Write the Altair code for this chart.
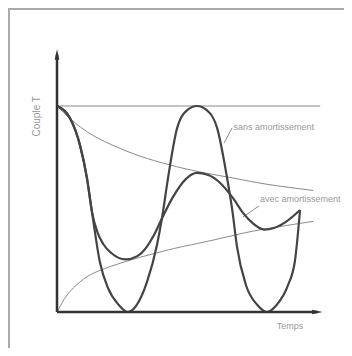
import altair as alt
import pandas as pd

# time (arbitrary units) and torque T (percent of initial value)
undamped_t = [0, 0.93, 1.64, 2.14, 2.5, 3.07, 3.64, 4.4, 5.05, 5.7, 6.43, 7.14, 7.5, 7.93, 8.57, 9.3, 10,
              10.7, 11.45, 12.1, 12.55, 12.85, 13.5, 14.3, 15, 15.7, 16.5, 17.0, 17.36]
undamped_T = [100, 94, 81, 65, 48.5, 24, 11.7, 3.5, 0, 3.5, 14.6, 32.5, 45.6, 65, 89, 98, 100,
              98, 89, 67, 48, 32, 13, 3.5, 0, 3.5, 13, 25, 49.5]

damped_t = [0, 0.93, 1.64, 2.14, 2.5, 2.9, 3.3, 3.9, 4.9, 5.7, 6.4, 6.9, 7.5, 8.3, 9.2, 10,
            10.8, 11.6, 12.6, 13.3, 14.0, 14.8, 15.5, 16.4, 17.36]
damped_T = [100, 94, 81, 65, 48.5, 38.5, 33, 28.5, 25.5, 27, 31.5, 37, 45.5, 56, 64.5, 67.5,
            66.5, 63, 55, 48, 43, 40, 40.8, 44, 49.5]

upper_t = [0, 1, 2.5, 4.3, 6, 8, 10.2, 12.6, 15, 18.3]
upper_T = [100, 93.5, 86, 80, 75.5, 71.5, 68, 65, 62, 59]

lower_t = [0, 0.5, 1, 1.9, 3, 4.9, 7, 8.8, 10.2, 12.5, 14.6, 18.3]
lower_T = [0, 6, 10.5, 16, 20, 24.5, 28.5, 31.5, 33.5, 37, 40, 44]

top_t = [0, 18.8]
top_T = [100, 100]

yaxis_t = [0, 0]
yaxis_T = [0, 125]
xaxis_t = [0, 18.6]
xaxis_T = [0, 0]

labels = ["sans amortissement", "avec amortissement", "Temps"]
labels_t = [12.6, 14.5, 15.7]
labels_T = [90, 55, -6.8]

leader_sans_t = [12.5, 11.93]
leader_sans_T = [89.3, 82]
leader_avec_t = [14.43, 13.29]
leader_avec_T = [51.5, 46.1]

ylabel = "Couple T"

XS = alt.Scale(domain=[-3.5, 20.5], nice=False, zero=False)
YS = alt.Scale(domain=[-17.48, 147.57], nice=False, zero=False)


def df(t, T, name):
    return pd.DataFrame({"t": t, "T": T, "s": name, "i": list(range(len(t)))})


def line(data, color, width, interp="monotone"):
    return alt.Chart(data).mark_line(color=color, strokeWidth=width, interpolate=interp).encode(
        x=alt.X("t:Q", scale=XS, axis=None),
        y=alt.Y("T:Q", scale=YS, axis=None),
        detail="s:N",
        order="i:Q",
    )


thin = pd.concat([
    df(upper_t, upper_T, "upper"),
    df(lower_t, lower_T, "lower"),
])
top = df(top_t, top_T, "top")
leaders = pd.concat([
    df(leader_sans_t, leader_sans_T, "ls"),
    df(leader_avec_t, leader_avec_T, "la"),
])
curves = pd.concat([
    df(undamped_t, undamped_T, "undamped"),
    df(damped_t, damped_T, "damped"),
])
axes = pd.concat([
    df(yaxis_t, yaxis_T, "yaxis"),
    df(xaxis_t, xaxis_T, "xaxis"),
])

frame_left = alt.Chart(pd.DataFrame({"a": [0]})).mark_rule(color="#aaaaaa", strokeWidth=2).encode(
    x=alt.value(1), y=alt.value(0), y2=alt.value(340))
frame_top = alt.Chart(pd.DataFrame({"a": [0]})).mark_rule(color="#aaaaaa", strokeWidth=2).encode(
    x=alt.value(0), x2=alt.value(336), y=alt.value(1))

arrow_up = alt.Chart(pd.DataFrame({"t": [0], "T": [yaxis_T[1]]})).mark_point(
    shape="M0,-1L0.45,1L-0.45,1Z", filled=True, color="#333333", size=110, opacity=1).encode(
    x=alt.X("t:Q", scale=XS, axis=None), y=alt.Y("T:Q", scale=YS, axis=None))
arrow_right = alt.Chart(pd.DataFrame({"t": [xaxis_t[1]], "T": [0]})).mark_point(
    shape="M1,0L-1,-0.45L-1,0.45Z", filled=True, color="#333333", size=110, opacity=1).encode(
    x=alt.X("t:Q", scale=XS, axis=None), y=alt.Y("T:Q", scale=YS, axis=None))

text_df = pd.DataFrame({"t": labels_t, "T": labels_T, "label": labels})
texts = alt.Chart(text_df).mark_text(
    align="left", baseline="middle", fontSize=9, color="#999999", font="Liberation Sans").encode(
    x=alt.X("t:Q", scale=XS, axis=None), y=alt.Y("T:Q", scale=YS, axis=None), text="label:N")

ytext = alt.Chart(pd.DataFrame({"t": [-1.45], "T": [95], "label": [ylabel]})).mark_text(
    align="center", baseline="middle", angle=270, fontSize=10, color="#999999",
    font="Liberation Sans").encode(
    x=alt.X("t:Q", scale=XS, axis=None), y=alt.Y("T:Q", scale=YS, axis=None), text="label:N")

chart = alt.layer(
    frame_left, frame_top,
    line(thin, "#8a8a8a", 1, "natural"),
    line(top, "#8a8a8a", 1, "linear"),
    line(leaders, "#8a8a8a", 1, "linear"),
    line(curves, "#444444", 2.2),
    line(axes, "#333333", 2.5, "linear"),
    arrow_up, arrow_right, texts, ytext,
).properties(
    width=336, height=340, padding=0, autosize=alt.AutoSizeParams(type="none"),
    background="white",
).configure_view(stroke=None)

chart.save("out.html", embed_options={"renderer": "svg", "actions": False})
